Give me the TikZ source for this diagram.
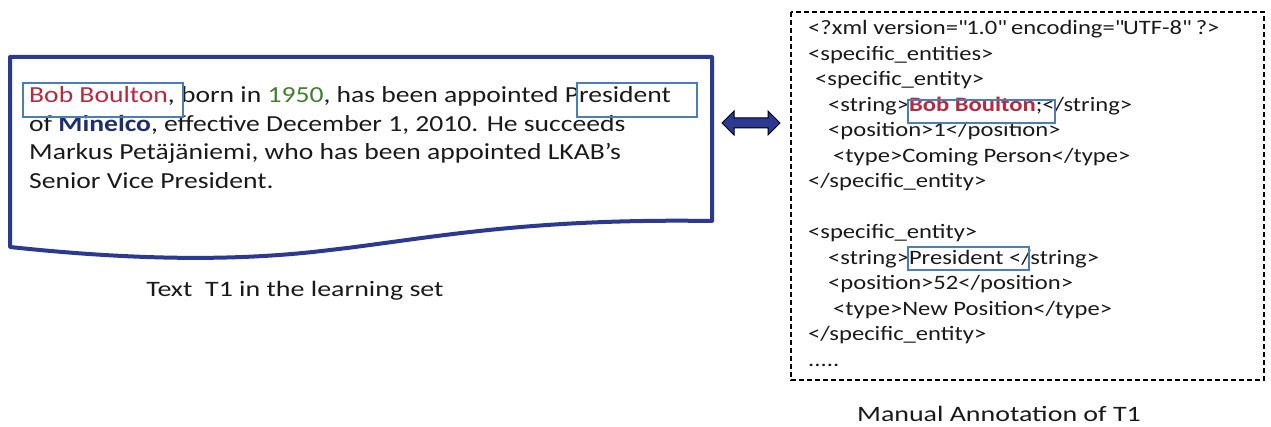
\documentclass[tikz,border=0pt]{standalone}
\usepackage{fontspec}
\setmainfont{Carlito}[FakeStretch=1.2]
\newfontfamily\capfont{Carlito}[FakeStretch=1.27]
\usetikzlibrary{shapes.arrows}
\definecolor{docblue}{HTML}{2B3990}
\definecolor{boxblue}{HTML}{4A7EBB}
\definecolor{namered}{HTML}{B8283F}
\definecolor{yeargreen}{HTML}{3D7F2A}
\definecolor{orgblue}{HTML}{1F2D6E}
\definecolor{inkgray}{HTML}{1A1A1A}

\begin{document}
\begin{tikzpicture}[x=1pt,y=-1pt,
  doctext/.style={anchor=base west,inner sep=0pt,font=\fontsize{23}{28}\selectfont,text=inkgray},
  xmltext/.style={anchor=base west,inner sep=0pt,font=\fontsize{20.5}{25}\selectfont,text=inkgray},
  captext/.style={anchor=base,inner sep=0pt,font=\capfont\fontsize{22}{26}\selectfont,text=inkgray},
  hlbox/.style={draw=boxblue,line width=1.3pt}]
\useasboundingbox (0,0) rectangle (1271,427);
\draw[docblue,line width=4pt,line join=round] (10,57) -- (712,57) -- (712,221)
  .. controls (520,218) and (420,240) .. (330,250)
  .. controls (250,260) and (150,262) .. (10,247) -- cycle;
\node[doctext] (l1) at (29,103) {\textcolor{namered}{Bob Boulton}, born in \textcolor{yeargreen}{1950}, has been appointed President};
\node[doctext] (l2) at (29,132) {of \textbf{\textcolor{orgblue}{Minelco}}, effective December 1, 2010. He succeeds};
\node[doctext] (l3) at (29,160) {Markus Petäjäniemi, who has been appointed LKAB's};
\node[doctext] (l4) at (29,189) {Senior Vice President.};
\draw[hlbox] (23,83) rectangle (183,117);
\draw[hlbox] (577,83) rectangle (697,117);
\node[captext] (cap1) at (295,297) {Text\ \ T1 in the learning set};

\node[double arrow,draw=black,line width=1pt,fill=docblue,minimum height=58pt,
  minimum width=23pt,inner sep=4.5pt,double arrow head extend=7pt] (arr) at (751,123) {};

\draw[dashed,line width=1.6pt,dash pattern=on 5pt off 3pt] (791,12) rectangle (1264,380);
\node[xmltext] (x1) at (808,35) {<?xml version=\textquotedbl 1.0\textquotedbl\ encoding=\textquotedbl UTF-8\textquotedbl\ ?>};
\node[xmltext] (x2) at (808,60.5) {<specific\_entities>};
\node[xmltext] (x3) at (815,86) {<specific\_entity>};
\node[xmltext] (x4) at (828,111.5) {<string>\textbf{\textcolor{namered}{Bob Boulton}};</string>};
\node[xmltext] (x5) at (828,137) {<position>1</position>};
\node[xmltext] (x6) at (833,162.5) {<type>Coming Person</type>};
\node[xmltext] (x7) at (808,188) {</specific\_entity>};
\node[xmltext] (x8) at (808,239) {<specific\_entity>};
\node[xmltext] (x9) at (828,264.5) {<string>President </string>};
\node[xmltext] (x10) at (828,290) {<position>52</position>};
\node[xmltext] (x11) at (833,315.5) {<type>New Position</type>};
\node[xmltext] (x12) at (808,341) {</specific\_entity>};
\node[xmltext] (x13) at (808,366.5) {.....};
\draw[hlbox] (908,100) rectangle (1055,123);
\draw[hlbox] (908,247) rectangle (1029,270);
\node[captext] (cap2) at (999,421) {Manual Annotation of T1};
\end{tikzpicture}
\end{document}
